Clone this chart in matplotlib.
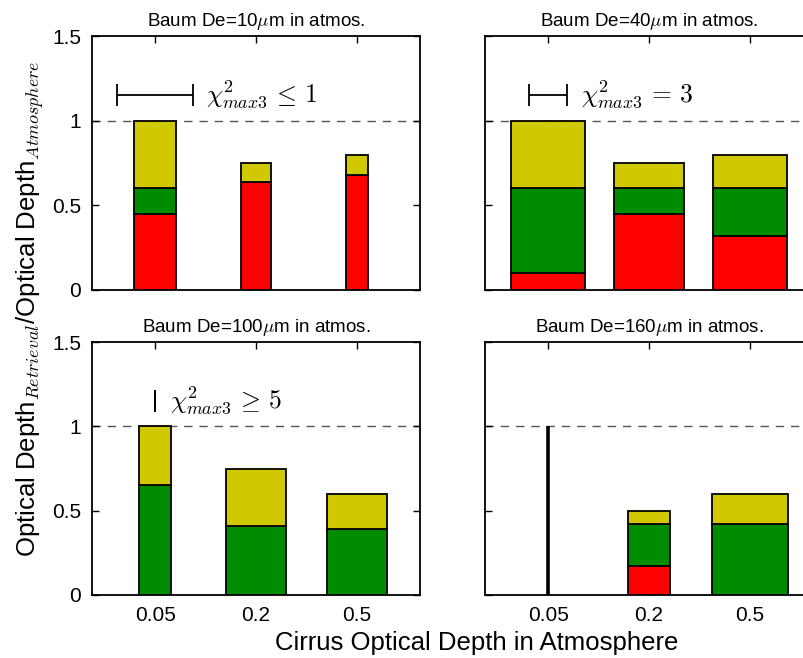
import matplotlib
matplotlib.use("Agg")
import matplotlib.pyplot as plt
import numpy as np

plt.rcParams['font.family'] = ['Liberation Sans', 'DejaVu Sans']
plt.rcParams['mathtext.fontset'] = 'cm'

categories = ['0.05', '0.2', '0.5']
titles = ['Baum De=10$\\mu$m in atmos.', 'Baum De=40$\\mu$m in atmos.',
          'Baum De=100$\\mu$m in atmos.', 'Baum De=160$\\mu$m in atmos.']

# top of each stacked segment (red from 0, green above red, yellow above green)
red_top = [[0.45, 0.635, 0.68], [0.10, 0.45, 0.32], [0.0, 0.0, 0.0], [0.0, 0.17, 0.0]]
green_top = [[0.60, 0.635, 0.68], [0.60, 0.60, 0.60], [0.65, 0.41, 0.39], [0.0, 0.42, 0.42]]
yellow_top = [[1.00, 0.75, 0.80], [1.00, 0.75, 0.80], [1.00, 0.75, 0.60], [1.00, 0.50, 0.60]]
# bar widths (chi^2 scale)
bar_width = [[0.42, 0.29, 0.22], [0.73, 0.70, 0.74], [0.31, 0.60, 0.60], [0.0, 0.42, 0.75]]

# chi^2 key per panel
key_width = [0.75, 0.38, 0.0, None]
key_text = ['$\\chi^2_{max3}\\,\\leq\\,1$', '$\\chi^2_{max3}\\,=\\,3$', '$\\chi^2_{max3}\\,\\geq\\,5$', None]
key_text_x = [1.5, 1.33, 1.15, None]
key_y = 1.15

yticks = [0, 0.5, 1, 1.5]
ytick_labels = ['0', '0.5', '1', '1.5']

RED = '#ff0000'
GREEN = '#008c00'
YELLOW = '#d0c800'

fig = plt.figure(figsize=(8.04, 6.58), dpi=100)
W, H = 804, 658
positions = [(92, 36, 328, 254), (485, 36, 328, 254),
             (92, 342, 328, 253), (485, 342, 328, 253)]

x = np.arange(1, len(categories) + 1)
for i, (l, t, w, h) in enumerate(positions):
    ax = fig.add_axes([l / W, 1 - (t + h) / H, w / W, h / H])
    rt = np.array(red_top[i]); gt = np.array(green_top[i]); yt = np.array(yellow_top[i])
    bw = np.array(bar_width[i])
    lw = np.where(bw == 0, 2.6, 1.3)
    kw = dict(edgecolor='black', linewidth=lw, zorder=3)
    ax.bar(x, rt, width=bw, bottom=0, color=RED, **kw)
    ax.bar(x, gt - rt, width=bw, bottom=rt, color=GREEN, **kw)
    ax.bar(x, yt - gt, width=bw, bottom=gt, color=YELLOW, **kw)
    ax.axhline(1.0, color='#555555', linestyle=(0, (6, 5)), linewidth=1.0, zorder=1)
    if key_width[i] is not None:
        ax.errorbar([1], [key_y], xerr=[key_width[i] / 2], color='black',
                    capsize=8, capthick=1.3, elinewidth=1.3, zorder=4)
        ax.text(key_text_x[i], key_y, key_text[i], fontsize=18.5, va='center', ha='left')
    ax.set_xlim(0.375, 3.625)
    ax.set_ylim(0, 1.5)
    ax.set_xticks(x)
    ax.set_yticks(yticks)
    ax.tick_params(direction='in', top=True, right=True, length=5, width=1.0,
                   labelsize=15, pad=8)
    if i >= 2:
        ax.set_xticklabels(categories)
    else:
        ax.set_xticklabels([])
    if i % 2 == 0:
        ax.set_yticklabels(ytick_labels)
    else:
        ax.set_yticklabels([])
    for s in ax.spines.values():
        s.set_linewidth(1.3)
    ax.set_title(titles[i], fontsize=13.5, pad=7)

fig.text(0.037, 0.53, 'Optical Depth$_{Retrieval}$/Optical Depth$_{Atmosphere}$',
         rotation=90, ha='center', va='center', fontsize=18.5)
fig.text(477 / W, 1 - 643 / H, 'Cirrus Optical Depth in Atmosphere',
         ha='center', va='center', fontsize=18.5)

fig.savefig('out.png', dpi=100)
